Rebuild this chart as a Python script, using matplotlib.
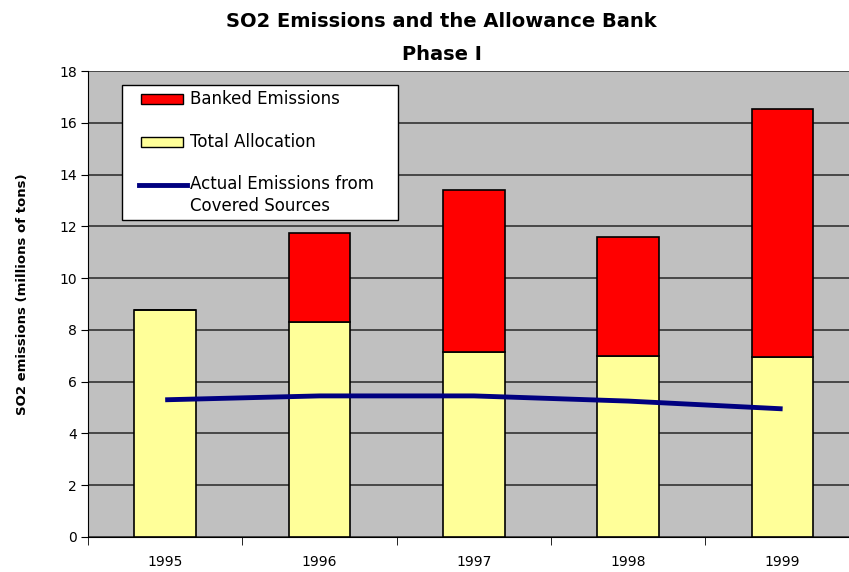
import matplotlib
matplotlib.use("Agg")
import matplotlib.pyplot as plt
from matplotlib.patches import Rectangle
from matplotlib.lines import Line2D
import numpy as np

years = ["1995", "1996", "1997", "1998", "1999"]
total_allocation = [8.75, 8.3, 7.15, 7.0, 6.95]
banked_emissions = [0.0, 3.45, 6.25, 4.6, 9.6]
actual_emissions = [5.3, 5.45, 5.45, 5.25, 4.95]
legend_labels = ["Banked Emissions", "Total Allocation", "Actual Emissions from\nCovered Sources"]

W, H = 849, 572
fig = plt.figure(figsize=(W / 100, H / 100), dpi=100)
ax = fig.add_axes([88 / W, 35 / H, 761 / W, 466 / H])
ax.set_facecolor("#C0C0C0")

x = np.arange(len(years))
w = 0.4
ax.bar(x, total_allocation, width=w, color="#FFFF99", edgecolor="black", linewidth=1.2, zorder=3)
ax.bar(x, banked_emissions, width=w, bottom=total_allocation, color="#FF0000",
       edgecolor="black", linewidth=1.2, zorder=3)
ax.plot(x, actual_emissions, color="#000080", linewidth=3.5, zorder=4, solid_capstyle="butt")

ax.set_yticks(np.arange(0, 19, 2))
ax.set_xticks(x)
ax.set_xticklabels(years)
ax.set_xticks(np.arange(-0.5, 4.6, 1), minor=True)
ax.set_ylim(0, 18)
ax.set_xlim(-0.5, 4.43)
ax.yaxis.grid(True, color="#333333", linewidth=1.2, zorder=0)
ax.set_axisbelow(True)

ax.tick_params(axis="x", which="major", length=0, pad=13)
ax.tick_params(axis="x", which="minor", length=6, direction="out", color="black")
ax.tick_params(axis="y", length=5, direction="out", pad=3)
for lbl in ax.get_xticklabels() + ax.get_yticklabels():
    lbl.set_fontsize(10)

for s in ["top", "right"]:
    ax.spines[s].set_visible(False)
ax.spines["left"].set_color("black")
ax.spines["bottom"].set_color("black")

ax.set_ylabel("SO2 emissions (millions of tons)", fontsize=9.5, fontweight="bold")
ax.yaxis.set_label_coords(-0.078, 0.52)

fig.text(0.52, 0.962, "SO2 Emissions and the Allowance Bank", ha="center", va="center",
         fontsize=14, fontweight="bold")
fig.text(0.52, 0.904, "Phase I", ha="center", va="center", fontsize=14, fontweight="bold")

# legend drawn in pixel positions (top-left origin)
def fx(px):
    return px / W

def fy(py):
    return 1 - py / H

fig.patches.append(Rectangle((fx(122), fy(220)), fx(398) - fx(122), fy(85) - fy(220),
                             transform=fig.transFigure, facecolor="white", edgecolor="black",
                             linewidth=1.0, zorder=10))
fig.patches.append(Rectangle((fx(141), fy(104)), fx(183) - fx(141), fy(94) - fy(104),
                             transform=fig.transFigure, facecolor="#FF0000", edgecolor="black",
                             linewidth=1.0, zorder=11))
fig.patches.append(Rectangle((fx(141), fy(147)), fx(183) - fx(141), fy(137) - fy(147),
                             transform=fig.transFigure, facecolor="#FFFF99", edgecolor="black",
                             linewidth=1.0, zorder=11))
fig.lines.append(Line2D([fx(139), fx(187)], [fy(185), fy(185)], transform=fig.transFigure,
                        color="#000080", linewidth=3.5, zorder=11))
fig.text(fx(190), fy(99), legend_labels[0], ha="left", va="center", fontsize=12, zorder=12)
fig.text(fx(190), fy(142), legend_labels[1], ha="left", va="center", fontsize=12, zorder=12)
fig.text(fx(190), fy(195), legend_labels[2], ha="left", va="center", fontsize=12,
         linespacing=1.3, zorder=12)

fig.savefig("out.png", dpi=100)
